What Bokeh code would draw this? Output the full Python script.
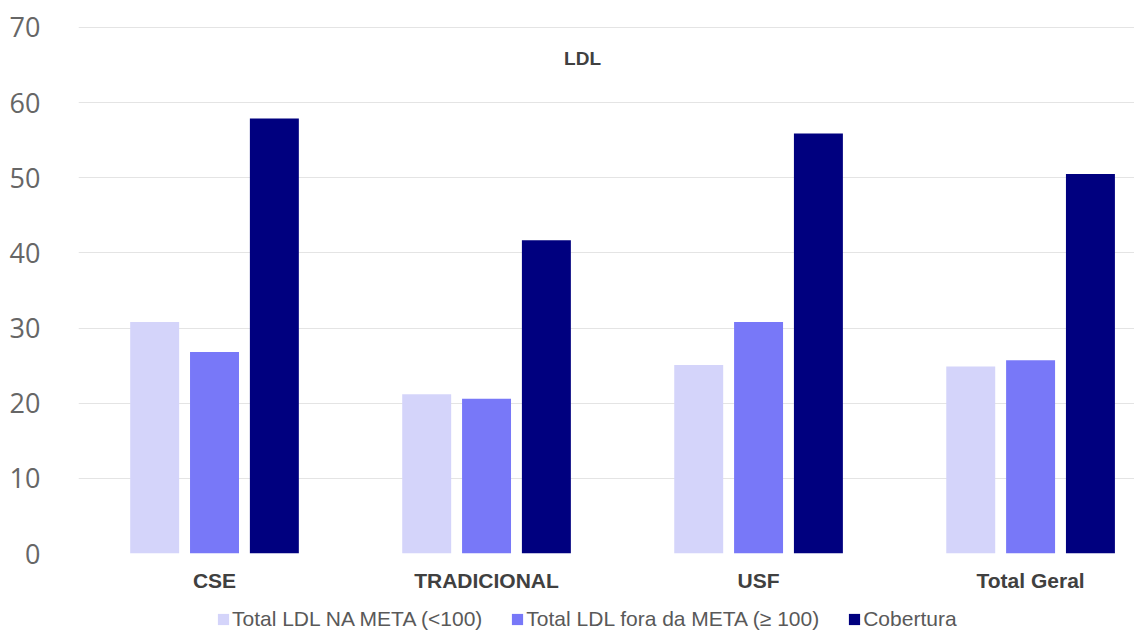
from bokeh.plotting import figure
from bokeh.layouts import column
from bokeh.models import (ColumnDataSource, Range1d, FixedTicker, Legend, LegendItem,
                          Label)
from bokeh.transform import dodge
from bokeh.embed import file_html
from bokeh.resources import INLINE

# Data
categories = ["CSE", "TRADICIONAL", "USF", "Total Geral"]
na_meta = [30.8, 21.2, 25.1, 24.9]
fora_meta = [26.8, 20.6, 30.8, 25.7]
cobertura = [57.9, 41.7, 55.9, 50.5]
series_names = ["Total LDL NA META (<100)", "Total LDL fora da META (\u2265 100)", "Cobertura"]
colors = ["#d4d4fa", "#7878f8", "#00007f"]
y_ticks = [0, 10, 20, 30, 40, 50, 60, 70]

src = ColumnDataSource(dict(
    x=list(range(len(categories))),
    na=na_meta,
    fora=fora_meta,
    cob=cobertura,
))

p = figure(width=1134, height=600, output_backend="svg", toolbar_location=None,
           x_range=Range1d(-0.5, 3.382), y_range=Range1d(0, 70.13),
           min_border_left=78, min_border_right=0, min_border_top=26,
           min_border_bottom=47)
p.outline_line_color = None
p.background_fill_color = "white"
p.border_fill_color = "white"

bw = 0.18
step = 0.22
p.vbar(x=dodge("x", -step, range=p.x_range), top="na", width=bw, source=src,
       fill_color=colors[0], line_color=None)
p.vbar(x=dodge("x", 0, range=p.x_range), top="fora", width=bw, source=src,
       fill_color=colors[1], line_color=None)
p.vbar(x=dodge("x", step, range=p.x_range), top="cob", width=bw, source=src,
       fill_color=colors[2], line_color=None)

# Axes
p.xaxis.ticker = FixedTicker(ticks=list(range(len(categories))))
p.xaxis.major_label_overrides = {i: c for i, c in enumerate(categories)}
p.xaxis.major_label_text_font = "Liberation Sans"
p.xaxis.major_label_text_font_style = "bold"
p.xaxis.major_label_text_font_size = "21px"
p.xaxis.major_label_text_color = "#404040"
p.xaxis.major_label_standoff = 9
p.xaxis.axis_line_color = None
p.xaxis.major_tick_line_color = None
p.xaxis.minor_tick_line_color = None
p.xgrid.grid_line_color = None

p.yaxis.ticker = FixedTicker(ticks=y_ticks)
p.yaxis.major_label_text_font = "Open Sans"
p.yaxis.major_label_text_font_size = "27px"
p.yaxis.major_label_text_color = "#666666"
p.yaxis.major_label_standoff = 32
p.yaxis.axis_line_color = None
p.yaxis.major_tick_line_color = None
p.yaxis.minor_tick_line_color = None
p.ygrid.grid_line_color = "#e4e4e4"
p.ygrid.grid_line_width = 1

# Chart title inside the plotting area
p.add_layout(Label(x=1.353, y=65.9, text="LDL", text_font="Liberation Sans",
                   text_font_style="bold", text_font_size="19px",
                   text_color="#404040", text_align="center",
                   text_baseline="middle"))

# Legend strip under the chart; its swatch renderers share the bar data but
# sit outside the strip's visible range, so only the legend keys show.
lg = figure(width=1134, height=32, output_backend="svg", toolbar_location=None,
            x_range=Range1d(100, 101), y_range=Range1d(100, 101),
            x_axis_type=None, y_axis_type=None,
            min_border_left=0, min_border_right=0, min_border_top=0,
            min_border_bottom=0)
lg.outline_line_color = None
lg.grid.grid_line_color = None
swatches = [lg.vbar(x="x", top=col, width=bw, source=src, fill_color=c,
                    line_color=None)
            for col, c in zip(["na", "fora", "cob"], colors)]
legend = Legend(items=[LegendItem(label=n, renderers=[r])
                       for n, r in zip(series_names, swatches)],
                orientation="horizontal", location=(138, 1),
                label_text_font="Liberation Sans", label_text_font_size="21px",
                label_text_color="#595959", glyph_width=14, glyph_height=14,
                label_standoff=2, spacing=28, padding=2, margin=0,
                label_height=20,
                border_line_color=None, background_fill_alpha=0)
lg.add_layout(legend, "center")

open("out.html", "w").write(file_html(column(p, lg, spacing=0), INLINE))
